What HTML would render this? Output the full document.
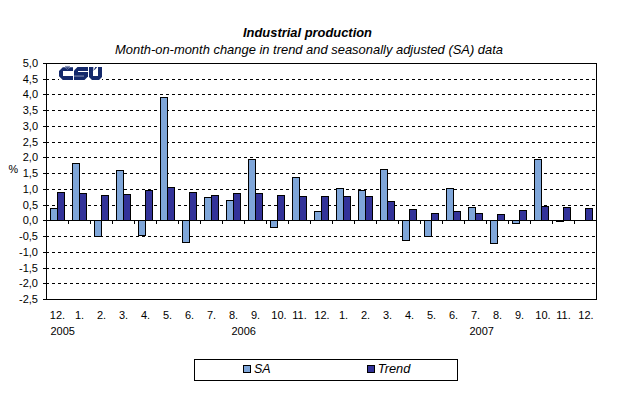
<!DOCTYPE html>
<html><head><meta charset="utf-8"><style>
html,body{margin:0;padding:0;background:#fff;}
body{width:618px;height:396px;overflow:hidden;position:relative;}
svg{position:absolute;left:0;top:0;}
text{font-family:"Liberation Sans", sans-serif;fill:#000;}
</style></head><body>
<svg width="618" height="396" viewBox="0 0 618 396">
<g shape-rendering="crispEdges">
<line x1="46" y1="79.5" x2="596" y2="79.5" stroke="#000" stroke-dasharray="3 3"/>
<line x1="46" y1="94.5" x2="596" y2="94.5" stroke="#000" stroke-dasharray="3 3"/>
<line x1="46" y1="110.5" x2="596" y2="110.5" stroke="#000" stroke-dasharray="3 3"/>
<line x1="46" y1="126.5" x2="596" y2="126.5" stroke="#000" stroke-dasharray="3 3"/>
<line x1="46" y1="142.5" x2="596" y2="142.5" stroke="#000" stroke-dasharray="3 3"/>
<line x1="46" y1="157.5" x2="596" y2="157.5" stroke="#000" stroke-dasharray="3 3"/>
<line x1="46" y1="173.5" x2="596" y2="173.5" stroke="#000" stroke-dasharray="3 3"/>
<line x1="46" y1="189.5" x2="596" y2="189.5" stroke="#000" stroke-dasharray="3 3"/>
<line x1="46" y1="205.5" x2="596" y2="205.5" stroke="#000" stroke-dasharray="3 3"/>
<line x1="46" y1="236.5" x2="596" y2="236.5" stroke="#000" stroke-dasharray="3 3"/>
<line x1="46" y1="252.5" x2="596" y2="252.5" stroke="#000" stroke-dasharray="3 3"/>
<line x1="46" y1="268.5" x2="596" y2="268.5" stroke="#000" stroke-dasharray="3 3"/>
<line x1="46" y1="283.5" x2="596" y2="283.5" stroke="#000" stroke-dasharray="3 3"/>
<line x1="43" y1="63.5" x2="46" y2="63.5" stroke="#000"/>
<line x1="43" y1="79.5" x2="46" y2="79.5" stroke="#000"/>
<line x1="43" y1="94.5" x2="46" y2="94.5" stroke="#000"/>
<line x1="43" y1="110.5" x2="46" y2="110.5" stroke="#000"/>
<line x1="43" y1="126.5" x2="46" y2="126.5" stroke="#000"/>
<line x1="43" y1="142.5" x2="46" y2="142.5" stroke="#000"/>
<line x1="43" y1="157.5" x2="46" y2="157.5" stroke="#000"/>
<line x1="43" y1="173.5" x2="46" y2="173.5" stroke="#000"/>
<line x1="43" y1="189.5" x2="46" y2="189.5" stroke="#000"/>
<line x1="43" y1="205.5" x2="46" y2="205.5" stroke="#000"/>
<line x1="43" y1="220.5" x2="46" y2="220.5" stroke="#000"/>
<line x1="43" y1="236.5" x2="46" y2="236.5" stroke="#000"/>
<line x1="43" y1="252.5" x2="46" y2="252.5" stroke="#000"/>
<line x1="43" y1="268.5" x2="46" y2="268.5" stroke="#000"/>
<line x1="43" y1="283.5" x2="46" y2="283.5" stroke="#000"/>
<line x1="43" y1="299.5" x2="46" y2="299.5" stroke="#000"/>
<rect x="50.5" y="208.5" width="7" height="12" fill="#7FA6D9" stroke="#000"/>
<rect x="57.5" y="192.5" width="7" height="28" fill="#333399" stroke="#000"/>
<rect x="72.5" y="163.5" width="7" height="57" fill="#7FA6D9" stroke="#000"/>
<rect x="79.5" y="193.5" width="7" height="27" fill="#333399" stroke="#000"/>
<rect x="94.5" y="220.5" width="7" height="16" fill="#7FA6D9" stroke="#000"/>
<rect x="101.5" y="195.5" width="7" height="25" fill="#333399" stroke="#000"/>
<rect x="116.5" y="170.5" width="7" height="50" fill="#7FA6D9" stroke="#000"/>
<rect x="123.5" y="194.5" width="7" height="26" fill="#333399" stroke="#000"/>
<rect x="138.5" y="220.5" width="7" height="15" fill="#7FA6D9" stroke="#000"/>
<rect x="145.5" y="190.5" width="7" height="30" fill="#333399" stroke="#000"/>
<rect x="160.5" y="97.5" width="7" height="123" fill="#7FA6D9" stroke="#000"/>
<rect x="167.5" y="187.5" width="7" height="33" fill="#333399" stroke="#000"/>
<rect x="182.5" y="220.5" width="7" height="22" fill="#7FA6D9" stroke="#000"/>
<rect x="189.5" y="192.5" width="7" height="28" fill="#333399" stroke="#000"/>
<rect x="204.5" y="197.5" width="7" height="23" fill="#7FA6D9" stroke="#000"/>
<rect x="211.5" y="195.5" width="7" height="25" fill="#333399" stroke="#000"/>
<rect x="226.5" y="200.5" width="7" height="20" fill="#7FA6D9" stroke="#000"/>
<rect x="233.5" y="193.5" width="7" height="27" fill="#333399" stroke="#000"/>
<rect x="248.5" y="159.5" width="7" height="61" fill="#7FA6D9" stroke="#000"/>
<rect x="255.5" y="193.5" width="7" height="27" fill="#333399" stroke="#000"/>
<rect x="270.5" y="220.5" width="7" height="7" fill="#7FA6D9" stroke="#000"/>
<rect x="277.5" y="195.5" width="7" height="25" fill="#333399" stroke="#000"/>
<rect x="292.5" y="177.5" width="7" height="43" fill="#7FA6D9" stroke="#000"/>
<rect x="299.5" y="196.5" width="7" height="24" fill="#333399" stroke="#000"/>
<rect x="314.5" y="211.5" width="7" height="9" fill="#7FA6D9" stroke="#000"/>
<rect x="321.5" y="196.5" width="7" height="24" fill="#333399" stroke="#000"/>
<rect x="336.5" y="188.5" width="7" height="32" fill="#7FA6D9" stroke="#000"/>
<rect x="343.5" y="196.5" width="7" height="24" fill="#333399" stroke="#000"/>
<rect x="358.5" y="190.5" width="7" height="30" fill="#7FA6D9" stroke="#000"/>
<rect x="365.5" y="196.5" width="7" height="24" fill="#333399" stroke="#000"/>
<rect x="380.5" y="169.5" width="7" height="51" fill="#7FA6D9" stroke="#000"/>
<rect x="387.5" y="201.5" width="7" height="19" fill="#333399" stroke="#000"/>
<rect x="402.5" y="220.5" width="7" height="20" fill="#7FA6D9" stroke="#000"/>
<rect x="409.5" y="209.5" width="7" height="11" fill="#333399" stroke="#000"/>
<rect x="424.5" y="220.5" width="7" height="16" fill="#7FA6D9" stroke="#000"/>
<rect x="431.5" y="213.5" width="7" height="7" fill="#333399" stroke="#000"/>
<rect x="446.5" y="188.5" width="7" height="32" fill="#7FA6D9" stroke="#000"/>
<rect x="453.5" y="211.5" width="7" height="9" fill="#333399" stroke="#000"/>
<rect x="468.5" y="207.5" width="7" height="13" fill="#7FA6D9" stroke="#000"/>
<rect x="475.5" y="213.5" width="7" height="7" fill="#333399" stroke="#000"/>
<rect x="490.5" y="220.5" width="7" height="23" fill="#7FA6D9" stroke="#000"/>
<rect x="497.5" y="214.5" width="7" height="6" fill="#333399" stroke="#000"/>
<rect x="512.5" y="220.5" width="7" height="3" fill="#7FA6D9" stroke="#000"/>
<rect x="519.5" y="210.5" width="7" height="10" fill="#333399" stroke="#000"/>
<rect x="534.5" y="159.5" width="7" height="61" fill="#7FA6D9" stroke="#000"/>
<rect x="541.5" y="206.5" width="7" height="14" fill="#333399" stroke="#000"/>
<rect x="556.5" y="220.5" width="7" height="1" fill="#7FA6D9" stroke="#000"/>
<rect x="563.5" y="207.5" width="7" height="13" fill="#333399" stroke="#000"/>
<rect x="585.5" y="208.5" width="7" height="12" fill="#333399" stroke="#000"/>
<line x1="68.5" y1="221" x2="68.5" y2="224" stroke="#000"/>
<line x1="90.5" y1="221" x2="90.5" y2="224" stroke="#000"/>
<line x1="112.5" y1="221" x2="112.5" y2="224" stroke="#000"/>
<line x1="134.5" y1="221" x2="134.5" y2="224" stroke="#000"/>
<line x1="156.5" y1="221" x2="156.5" y2="224" stroke="#000"/>
<line x1="178.5" y1="221" x2="178.5" y2="224" stroke="#000"/>
<line x1="200.5" y1="221" x2="200.5" y2="224" stroke="#000"/>
<line x1="222.5" y1="221" x2="222.5" y2="224" stroke="#000"/>
<line x1="244.5" y1="221" x2="244.5" y2="224" stroke="#000"/>
<line x1="266.5" y1="221" x2="266.5" y2="224" stroke="#000"/>
<line x1="288.5" y1="221" x2="288.5" y2="224" stroke="#000"/>
<line x1="310.5" y1="221" x2="310.5" y2="224" stroke="#000"/>
<line x1="332.5" y1="221" x2="332.5" y2="224" stroke="#000"/>
<line x1="354.5" y1="221" x2="354.5" y2="224" stroke="#000"/>
<line x1="376.5" y1="221" x2="376.5" y2="224" stroke="#000"/>
<line x1="398.5" y1="221" x2="398.5" y2="224" stroke="#000"/>
<line x1="420.5" y1="221" x2="420.5" y2="224" stroke="#000"/>
<line x1="442.5" y1="221" x2="442.5" y2="224" stroke="#000"/>
<line x1="464.5" y1="221" x2="464.5" y2="224" stroke="#000"/>
<line x1="486.5" y1="221" x2="486.5" y2="224" stroke="#000"/>
<line x1="508.5" y1="221" x2="508.5" y2="224" stroke="#000"/>
<line x1="530.5" y1="221" x2="530.5" y2="224" stroke="#000"/>
<line x1="552.5" y1="221" x2="552.5" y2="224" stroke="#000"/>
<line x1="574.5" y1="221" x2="574.5" y2="224" stroke="#000"/>
<line x1="46" y1="220.5" x2="597" y2="220.5" stroke="#000"/>
<rect x="46.5" y="63.5" width="550" height="236" fill="none" stroke="#000"/>
<rect x="59" y="66" width="43" height="15" fill="#fff"/>
</g><g>
<g fill="#14296b"><path d="M62.8 67.3H73V71H63V76H73V80H62.8L59 76.3V71.1Z"/><path d="M77.5 67H88V76.5L84.5 80H74V70.5Z"/><path d="M89 67H93V76H98V67H102V77L99 80H92L89 77Z"/><path d="M95.3 67H97.2L94.9 69.8H93.9Z"/></g>
<path d="M64.8 67.2L67.5 69.3L70.2 67.2" fill="none" stroke="#fff" stroke-opacity="0.3" stroke-width="1"/>
<path d="M65 66.4H70" stroke="#14296b" stroke-opacity="0.7" stroke-width="0.8"/>
<rect x="93" y="67" width="1" height="4" fill="#14296b" fill-opacity="0.3"/>
<rect x="78" y="71" width="10" height="1" fill="#fff"/>
<rect x="74" y="75.6" width="10" height="0.9" fill="#fff" fill-opacity="0.55"/>
</g><g shape-rendering="crispEdges">
<rect x="194.5" y="359.5" width="263" height="21" fill="#fff" stroke="#000"/>
<rect x="243.5" y="365.5" width="7" height="7" fill="#7FA6D9" stroke="#000"/>
<rect x="367.5" y="365.5" width="7" height="7" fill="#333399" stroke="#000"/>
</g>
<g>
<text x="243" y="37" font-size="13.3" text-anchor="start" font-weight="bold" font-style="italic" textLength="129" lengthAdjust="spacingAndGlyphs">Industrial production</text>
<text x="115" y="54" font-size="13.3" text-anchor="start" font-weight="normal" font-style="italic" textLength="388" lengthAdjust="spacingAndGlyphs">Month-on-month change in trend and seasonally adjusted (SA) data</text>
<text x="38" y="67" font-size="11" text-anchor="end" font-weight="normal" font-style="normal">5,0</text>
<text x="38" y="83" font-size="11" text-anchor="end" font-weight="normal" font-style="normal">4,5</text>
<text x="38" y="98" font-size="11" text-anchor="end" font-weight="normal" font-style="normal">4,0</text>
<text x="38" y="114" font-size="11" text-anchor="end" font-weight="normal" font-style="normal">3,5</text>
<text x="38" y="130" font-size="11" text-anchor="end" font-weight="normal" font-style="normal">3,0</text>
<text x="38" y="146" font-size="11" text-anchor="end" font-weight="normal" font-style="normal">2,5</text>
<text x="38" y="161" font-size="11" text-anchor="end" font-weight="normal" font-style="normal">2,0</text>
<text x="38" y="177" font-size="11" text-anchor="end" font-weight="normal" font-style="normal">1,5</text>
<text x="38" y="193" font-size="11" text-anchor="end" font-weight="normal" font-style="normal">1,0</text>
<text x="38" y="209" font-size="11" text-anchor="end" font-weight="normal" font-style="normal">0,5</text>
<text x="38" y="224" font-size="11" text-anchor="end" font-weight="normal" font-style="normal">0,0</text>
<text x="38" y="240" font-size="11" text-anchor="end" font-weight="normal" font-style="normal">-0,5</text>
<text x="38" y="256" font-size="11" text-anchor="end" font-weight="normal" font-style="normal">-1,0</text>
<text x="38" y="272" font-size="11" text-anchor="end" font-weight="normal" font-style="normal">-1,5</text>
<text x="38" y="287" font-size="11" text-anchor="end" font-weight="normal" font-style="normal">-2,0</text>
<text x="38" y="303" font-size="11" text-anchor="end" font-weight="normal" font-style="normal">-2,5</text>
<text x="8.6" y="173" font-size="11.6" text-anchor="start" font-weight="normal" font-style="normal" textLength="9.6" lengthAdjust="spacingAndGlyphs">%</text>
<text x="57.5" y="319" font-size="11" text-anchor="middle" font-weight="normal" font-style="normal">12.</text>
<text x="79.5" y="319" font-size="11" text-anchor="middle" font-weight="normal" font-style="normal">1.</text>
<text x="101.5" y="319" font-size="11" text-anchor="middle" font-weight="normal" font-style="normal">2.</text>
<text x="123.5" y="319" font-size="11" text-anchor="middle" font-weight="normal" font-style="normal">3.</text>
<text x="145.5" y="319" font-size="11" text-anchor="middle" font-weight="normal" font-style="normal">4.</text>
<text x="167.5" y="319" font-size="11" text-anchor="middle" font-weight="normal" font-style="normal">5.</text>
<text x="189.5" y="319" font-size="11" text-anchor="middle" font-weight="normal" font-style="normal">6.</text>
<text x="211.5" y="319" font-size="11" text-anchor="middle" font-weight="normal" font-style="normal">7.</text>
<text x="233.5" y="319" font-size="11" text-anchor="middle" font-weight="normal" font-style="normal">8.</text>
<text x="255.5" y="319" font-size="11" text-anchor="middle" font-weight="normal" font-style="normal">9.</text>
<text x="279.0" y="319" font-size="11" text-anchor="middle" font-weight="normal" font-style="normal">10.</text>
<text x="299.5" y="319" font-size="11" text-anchor="middle" font-weight="normal" font-style="normal">11.</text>
<text x="322.0" y="319" font-size="11" text-anchor="middle" font-weight="normal" font-style="normal">12.</text>
<text x="343.5" y="319" font-size="11" text-anchor="middle" font-weight="normal" font-style="normal">1.</text>
<text x="365.5" y="319" font-size="11" text-anchor="middle" font-weight="normal" font-style="normal">2.</text>
<text x="387.5" y="319" font-size="11" text-anchor="middle" font-weight="normal" font-style="normal">3.</text>
<text x="409.5" y="319" font-size="11" text-anchor="middle" font-weight="normal" font-style="normal">4.</text>
<text x="431.5" y="319" font-size="11" text-anchor="middle" font-weight="normal" font-style="normal">5.</text>
<text x="453.5" y="319" font-size="11" text-anchor="middle" font-weight="normal" font-style="normal">6.</text>
<text x="475.5" y="319" font-size="11" text-anchor="middle" font-weight="normal" font-style="normal">7.</text>
<text x="497.5" y="319" font-size="11" text-anchor="middle" font-weight="normal" font-style="normal">8.</text>
<text x="519.5" y="319" font-size="11" text-anchor="middle" font-weight="normal" font-style="normal">9.</text>
<text x="543.0" y="319" font-size="11" text-anchor="middle" font-weight="normal" font-style="normal">10.</text>
<text x="563.5" y="319" font-size="11" text-anchor="middle" font-weight="normal" font-style="normal">11.</text>
<text x="586.0" y="319" font-size="11" text-anchor="middle" font-weight="normal" font-style="normal">12.</text>
<text x="50.5" y="335" font-size="11" text-anchor="start" font-weight="normal" font-style="normal">2005</text>
<text x="231.5" y="335" font-size="11" text-anchor="start" font-weight="normal" font-style="normal">2006</text>
<text x="469.5" y="335" font-size="11" text-anchor="start" font-weight="normal" font-style="normal">2007</text>
<text x="254" y="373" font-size="12.5" text-anchor="start" font-weight="normal" font-style="italic">SA</text>
<text x="377.8" y="373" font-size="12.5" text-anchor="start" font-weight="normal" font-style="italic" textLength="32.5" lengthAdjust="spacingAndGlyphs">Trend</text>
</g>
</svg>
</body></html>
